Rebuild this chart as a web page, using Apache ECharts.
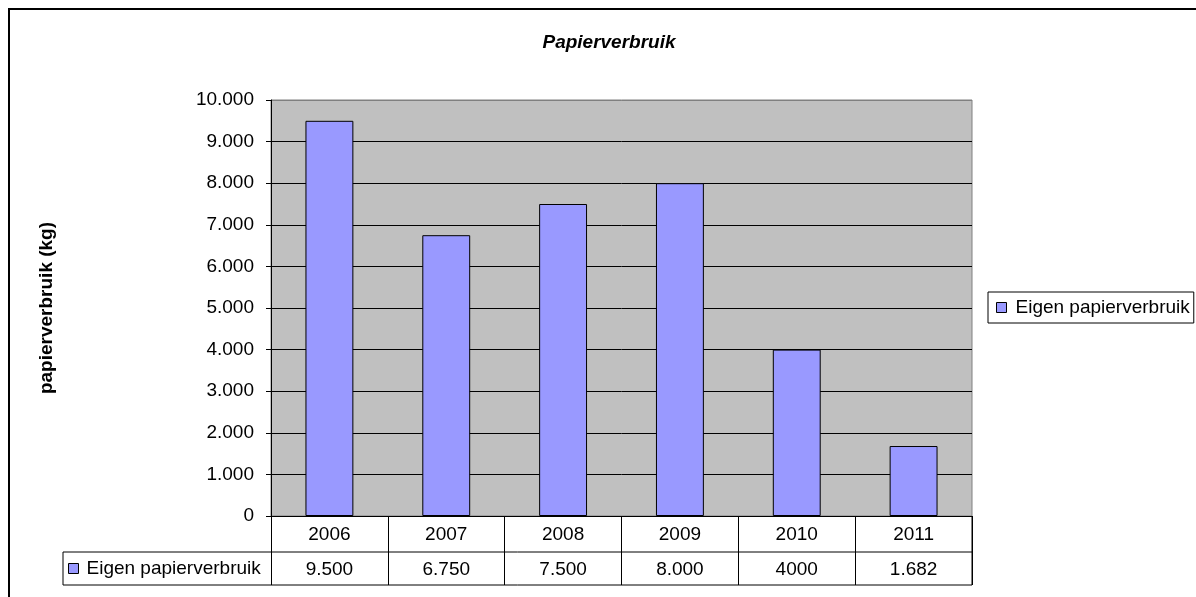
<!DOCTYPE html>
<html>
<head>
<meta charset="utf-8">
<script src="https://cdn.jsdelivr.net/npm/echarts@6/dist/echarts.min.js"></script>
<style>
html,body{margin:0;padding:0;background:#fff;}
#c{width:1196px;height:597px;}
</style>
</head>
<body>
<div id="c"></div>
<script>
const categories = ['2006', '2007', '2008', '2009', '2010', '2011'];
const values = [9500, 6750, 7500, 8000, 4000, 1682];
const tableText = ['9.500', '6.750', '7.500', '8.000', '4000', '1.682'];
const yTicks = [0, 1000, 2000, 3000, 4000, 5000, 6000, 7000, 8000, 9000, 10000];
const seriesName = 'Eigen papierverbruik';

const FONT = 'Liberation Sans, Arial, sans-serif';
function fmt(v) {
  if (v < 1000) return String(v);
  return Math.floor(v / 1000) + '.' + String(v % 1000).padStart(3, '0');
}
const splitColors = yTicks.map((t, i) => i === yTicks.length - 1 ? '#808080' : '#000000');

const chart = echarts.init(document.getElementById('c'), null, {renderer: 'canvas'});
const option = {
  animation: false,
  backgroundColor: '#ffffff',
  title: {
    text: 'Papierverbruik',
    left: 604,
    top: 28,
    textAlign: 'center',
    textStyle: {fontFamily: FONT, fontSize: 19, fontWeight: 'bold', fontStyle: 'italic', color: '#000'}
  },
  grid: {
    left: 271, top: 100, right: 224, bottom: 81,
    show: true, backgroundColor: '#C0C0C0', borderColor: '#808080', borderWidth: 1,
    containLabel: false
  },
  legend: [
    {
      data: [seriesName],
      left: 988, top: 292,
      orient: 'vertical',
      borderColor: '#000', borderWidth: 1,
      padding: [6, 4, 6, 8],
      itemWidth: 10, itemHeight: 10,
      icon: 'rect',
      itemStyle: {color: '#9999FF', borderColor: '#000', borderWidth: 1},
      textStyle: {fontFamily: FONT, fontSize: 19, color: '#000', padding: [0, 0, 0, 4]}
    },
    {
      data: [seriesName],
      left: 63, top: 553,
      padding: [6, 4, 6, 5],
      itemWidth: 10, itemHeight: 10,
      icon: 'rect',
      selectedMode: false,
      itemStyle: {color: '#9999FF', borderColor: '#000', borderWidth: 1},
      textStyle: {fontFamily: FONT, fontSize: 19, color: '#000', padding: [0, 0, 0, 3]}
    }
  ],
  xAxis: {
    type: 'category',
    data: categories,
    boundaryGap: true,
    axisLine: {show: true, lineStyle: {color: '#000', width: 1}},
    axisTick: {show: true, interval: 0, length: 69, lineStyle: {color: '#000', width: 1}},
    axisLabel: {
      interval: 0,
      margin: 1,
      fontFamily: FONT, fontSize: 19, color: '#000',
      lineHeight: 35,
      formatter: (v, i) => v + '\n' + tableText[i]
    },
    splitLine: {show: false}
  },
  yAxis: {
    type: 'value',
    min: 0, max: 10000, interval: 1000,
    name: 'papierverbruik (kg)',
    nameLocation: 'middle',
    nameRotate: 90,
    nameGap: 215,
    nameTextStyle: {fontFamily: FONT, fontSize: 19, fontWeight: 'bold', color: '#000'},
    axisLine: {show: true, lineStyle: {color: '#000', width: 1}},
    axisTick: {show: true, length: 5, lineStyle: {color: '#000'}},
    axisLabel: {margin: 17, fontFamily: FONT, fontSize: 19, color: '#000', formatter: fmt},
    splitLine: {show: true, lineStyle: {color: splitColors, width: 1}}
  },
  series: [{
    name: seriesName,
    type: 'bar',
    data: values,
    barWidth: '41%',
    itemStyle: {color: '#9999FF', borderColor: '#000', borderWidth: 1}
  }]
};
chart.setOption(option);

// table lines derived from the axis scale
const c0 = chart.convertToPixel({gridIndex: 0}, [0, 0]);
const c1 = chart.convertToPixel({gridIndex: 0}, [1, 0]);
const band = c1[0] - c0[0];
const xRight = chart.convertToPixel({gridIndex: 0}, [categories.length - 1, 0])[0] + band / 2;
const yBase = c0[1];
const row1 = yBase + 36, row2 = yBase + 69;
const tableLeft = 63;
chart.setOption({
  graphic: [
    {type: 'rect', shape: {x: 9, y: 9, width: 1200, height: 600}, style: {fill: 'none', stroke: '#000', lineWidth: 2}, silent: true, z: 100},
    {type: 'line', shape: {x1: tableLeft, y1: row1, x2: xRight, y2: row1}, style: {stroke: '#000', lineWidth: 1}, z: 100},
    {type: 'line', shape: {x1: tableLeft, y1: row2, x2: xRight, y2: row2}, style: {stroke: '#000', lineWidth: 1}, z: 100},
    {type: 'line', shape: {x1: tableLeft, y1: row1, x2: tableLeft, y2: row2}, style: {stroke: '#000', lineWidth: 1}, z: 100},
    {type: 'line', shape: {x1: xRight, y1: yBase, x2: xRight, y2: row2}, style: {stroke: '#000', lineWidth: 1}, z: 100}
  ]
});
</script>
</body>
</html>
